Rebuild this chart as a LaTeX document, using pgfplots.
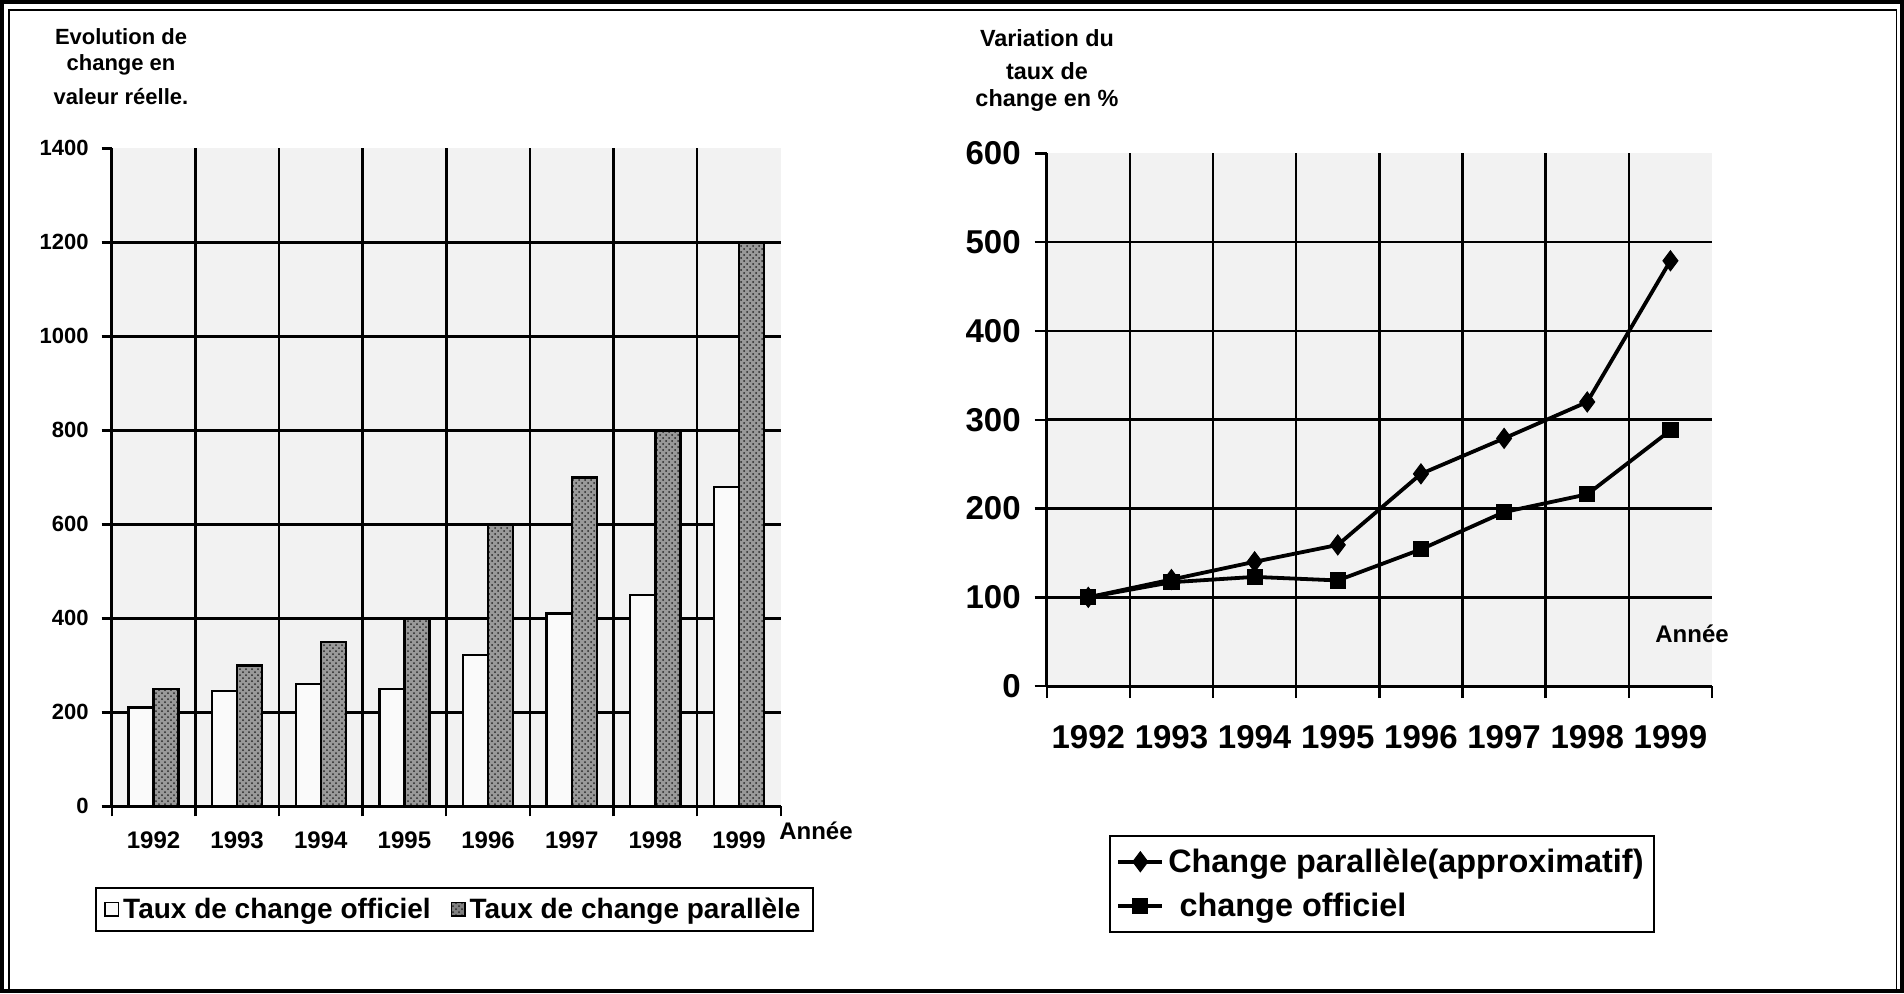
\documentclass[border=0pt]{standalone}
\usepackage{pgfplots}
\pgfplotsset{compat=1.18}
\usepackage{fontspec}
\setmainfont{Liberation Sans}
\usetikzlibrary{patterns}
\begin{document}
\begin{tikzpicture}
\useasboundingbox (0,0) rectangle (952pt,496.5pt);
% outer frame
\draw[line width=1.6pt] (1pt,1pt) rectangle (951pt,495.5pt);
\draw[line width=0.7pt] (4.5pt,1pt) -- (4.5pt,491.5pt) -- (948.3pt,491.5pt) -- (948.3pt,1pt);

% ---------------- left chart ----------------
\begin{axis}[
  at={(55.85pt,93.35pt)}, anchor=south west,
  scale only axis, width=334.55pt, height=329pt,
  xmin=-0.5, xmax=7.5, ymin=0, ymax=1400,
  axis x line*=bottom, axis y line*=left,
  axis line style={line width=1.4pt, -},
  axis background/.style={fill=black!5},
  tick align=outside, major tick length=5pt,
  tick style={black, line width=1.2pt},
  ytick={0,200,...,1400},
  xtick={-0.5,0.5,...,7.5},
  x tick label as interval,
  xticklabels={1992,1993,1994,1995,1996,1997,1998,1999},
  extra x ticks={0.5,1.5,...,6.5}, extra x tick labels={},
  extra x tick style={grid=major, major tick length=0pt},
  extra y ticks={200,400,...,1200}, extra y tick labels={},
  extra y tick style={grid=major, major tick length=0pt},
  major grid style={black, line width=1.25pt},
  /pgf/number format/assume math mode=true,
  /pgf/number format/1000 sep={},
  yticklabel style={font=\fontsize{11}{11}\selectfont\bfseries, xshift=-3pt},
  xticklabel style={font=\fontsize{12}{12}\selectfont\bfseries, yshift=-4pt},
  legend style={at={(0.5123,-0.1568)}, anchor=center, draw=black, line width=1pt,
    font=\fontsize{14}{16}\selectfont\bfseries, inner xsep=4pt, inner ysep=3pt,
    /tikz/every even column/.append style={column sep=8pt}},
  legend columns=2,
  legend cell align=left,
]
\addplot[ybar, bar width=0.30, bar shift=-0.15, draw=black, line width=1.2pt, fill=black!2,
  legend image code/.code={\draw[black,line width=0.8pt,fill=black!2] (0pt,-3.2pt) rectangle (6.6pt,3.4pt);}]
  coordinates {(0,210) (1,245) (2,260) (3,250) (4,322) (5,410) (6,450) (7,680)};
\addplot[ybar, bar width=0.30, bar shift=0.15, draw=black, line width=1.2pt, fill=black!40,
  postaction={pattern=crosshatch dots, pattern color=black!85},
  legend image code/.code={\draw[black,line width=0.8pt,fill=black!50] (0pt,-3.2pt) rectangle (6.6pt,3.4pt);}]
  coordinates {(0,250) (1,300) (2,350) (3,400) (4,600) (5,700) (6,800) (7,1200)};
\legend{Taux de change officiel, Taux de change parallèle}
\end{axis}

% ---------------- right chart ----------------
\begin{axis}[
  at={(523.35pt,153.45pt)}, anchor=south west,
  scale only axis, width=332.65pt, height=266.4pt,
  xmin=-0.5, xmax=7.5, ymin=0, ymax=600,
  axis x line*=bottom, axis y line*=left,
  axis line style={line width=1.4pt, -},
  axis background/.style={fill=black!5},
  tick align=outside, major tick length=6pt,
  tick style={black, line width=1.2pt},
  ytick={0,100,...,600},
  xtick={-0.5,0.5,...,7.5},
  x tick label as interval,
  xticklabels={1992,1993,1994,1995,1996,1997,1998,1999},
  extra x ticks={0.5,1.5,...,6.5}, extra x tick labels={},
  extra x tick style={grid=major, major tick length=0pt},
  extra y ticks={100,200,...,500}, extra y tick labels={},
  extra y tick style={grid=major, major tick length=0pt},
  major grid style={black, line width=1.25pt},
  /pgf/number format/assume math mode=true,
  /pgf/number format/1000 sep={},
  yticklabel style={font=\fontsize{16.5}{16.5}\selectfont\bfseries, xshift=-3.5pt},
  xticklabel style={font=\fontsize{16.5}{16.5}\selectfont\bfseries, yshift=-10pt},
  legend style={at={(0.504,-0.3714)}, anchor=center, draw=black, line width=1pt,
    font=\fontsize{16.2}{18}\selectfont\bfseries, inner xsep=3pt, inner ysep=4pt,
    row sep=5pt},
  legend cell align=left,
  legend image code/.code={\draw[mark repeat=2,mark phase=2,#1] plot coordinates {(0pt,0pt) (11pt,0pt) (22pt,0pt)};},
]
\addplot[black, line width=1.9pt, mark=diamond*, mark size=5pt, mark options={solid, line width=0.5pt}]
  coordinates {(0,100) (1,120) (2,140) (3,159) (4,239) (5,279) (6,320) (7,479)};
\addplot[black, line width=1.9pt, mark=square*, mark size=3.8pt, mark options={solid, line width=0.5pt}]
  coordinates {(0,100) (1,117) (2,123) (3,119) (4,154) (5,196) (6,216) (7,288)};
\legend{Change parallèle(approximatif), \hspace{0.35em}change officiel}
\end{axis}

% titles and labels
\begin{scope}[font=\fontsize{11}{11}\selectfont\bfseries]
\node at (60.5pt,478pt) {Evolution de};
\node at (60.5pt,464pt) {change en};
\node at (60.5pt,448pt) {valeur réelle.};
\end{scope}
\begin{scope}[font=\fontsize{11.7}{11.7}\selectfont\bfseries]
\node at (523.5pt,477.5pt) {Variation du};
\node at (523.5pt,461pt) {taux de};
\node at (523.5pt,446pt) {change en \%};
\end{scope}
\node[font=\fontsize{12}{12}\selectfont\bfseries] at (408pt,81pt) {Année};
\node[font=\fontsize{12}{12}\selectfont\bfseries] at (846pt,179.5pt) {Année};
\end{tikzpicture}
\end{document}
